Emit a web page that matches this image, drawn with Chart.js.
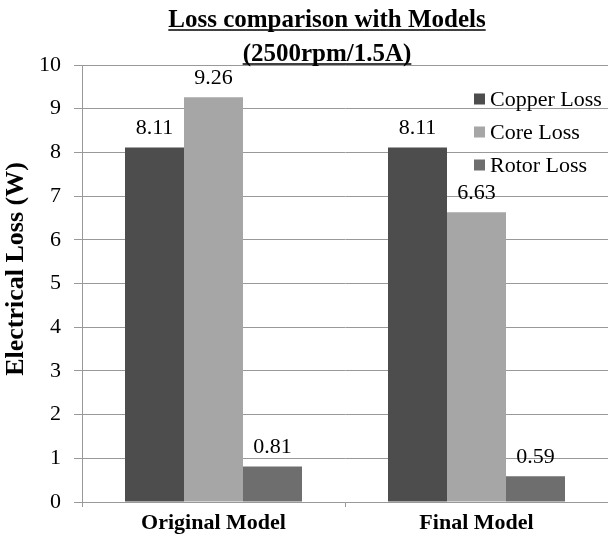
<!DOCTYPE html>
<html>
<head>
<meta charset="utf-8">
<script src="https://cdn.jsdelivr.net/npm/chart.js@4/dist/chart.umd.min.js"></script>
<style>
  html, body { margin: 0; padding: 0; background: #fff; }
  #wrap { width: 608px; height: 541px; }
</style>
</head>
<body>
<div id="wrap"><canvas id="c" width="608" height="541"></canvas></div>
<script>
// Loss values per model (W)
const categories = ['Original Model', 'Final Model'];
const seriesNames = ['Copper Loss', 'Core Loss', 'Rotor Loss'];
const copperLoss = [8.11, 8.11];
const coreLoss = [9.26, 6.63];
const rotorLoss = [0.81, 0.59];
const yTicks = [0, 1, 2, 3, 4, 5, 6, 7, 8, 9, 10];
const titleLines = ['Loss comparison with Models', '(2500rpm/1.5A)'];
const yTitle = 'Electrical Loss (W)';

const colors = ['#4d4d4d', '#a6a6a6', '#6e6e6e'];
const SERIF = '"Liberation Serif", "Times New Roman", serif';

// Underlined two-line heading
const headingPlugin = {
  id: 'heading',
  afterDraw(chart) {
    const ctx = chart.ctx;
    ctx.save();
    ctx.font = 'bold 25px ' + SERIF;
    ctx.fillStyle = '#000';
    ctx.strokeStyle = '#000';
    ctx.textAlign = 'center';
    ctx.textBaseline = 'alphabetic';
    const cx = 327;
    const baselines = [27, 61];
    titleLines.forEach((t, i) => {
      ctx.fillText(t, cx, baselines[i]);
      const w = ctx.measureText(t).width;
      ctx.lineWidth = 1.5;
      ctx.beginPath();
      ctx.moveTo(cx - w / 2, baselines[i] + 3);
      ctx.lineTo(cx + w / 2, baselines[i] + 3);
      ctx.stroke();
    });
    ctx.restore();
  }
};

// Rotated axis title
const yTitlePlugin = {
  id: 'yTitle',
  afterDraw(chart) {
    const ctx = chart.ctx;
    ctx.save();
    ctx.translate(16, 269);
    ctx.rotate(-Math.PI / 2);
    ctx.font = 'bold 26px ' + SERIF;
    ctx.fillStyle = '#000';
    ctx.textAlign = 'center';
    ctx.textBaseline = 'middle';
    ctx.fillText(yTitle, 0, 0);
    ctx.restore();
  }
};

// Value labels above each bar
const valueLabels = {
  id: 'valueLabels',
  afterDatasetsDraw(chart) {
    const ctx = chart.ctx;
    ctx.save();
    ctx.font = '22px ' + SERIF;
    ctx.fillStyle = '#000';
    ctx.textAlign = 'center';
    ctx.textBaseline = 'middle';
    chart.data.datasets.forEach((ds, di) => {
      chart.getDatasetMeta(di).data.forEach((bar, i) => {
        ctx.fillText(ds.data[i].toFixed(2), bar.x, bar.y - 19);
      });
    });
    ctx.restore();
  }
};

// Legend inside the plot, upper right
const innerLegend = {
  id: 'innerLegend',
  afterDraw(chart) {
    const ctx = chart.ctx;
    ctx.save();
    ctx.font = '22px ' + SERIF;
    ctx.textAlign = 'left';
    ctx.textBaseline = 'middle';
    chart.data.datasets.forEach((ds, i) => {
      const y = 99 + i * 33;
      ctx.fillStyle = ds.backgroundColor;
      ctx.fillRect(474, y - 5.5, 11, 11);
      ctx.fillStyle = '#000';
      ctx.fillText(ds.label, 490, y + 1);
    });
    ctx.restore();
  }
};

new Chart(document.getElementById('c'), {
  type: 'bar',
  data: {
    labels: categories,
    datasets: [
      { label: seriesNames[0], data: copperLoss, backgroundColor: colors[0] },
      { label: seriesNames[1], data: coreLoss, backgroundColor: colors[1] },
      { label: seriesNames[2], data: rotorLoss, backgroundColor: colors[2] }
    ]
  },
  options: {
    responsive: false,
    animation: false,
    layout: { padding: { top: 65, right: 0, bottom: 0, left: 0 } },
    datasets: { bar: { categoryPercentage: 0.673, barPercentage: 1.0 } },
    plugins: {
      legend: { display: false },
      title: { display: false },
      tooltip: { enabled: false }
    },
    scales: {
      x: {
        grid: { offset: true, drawOnChartArea: false, tickLength: 5, color: '#999' },
        border: { color: '#999', width: 1 },
        ticks: { font: { family: SERIF, size: 22, weight: 'bold' }, color: '#000', padding: 3 },
        afterFit(scale) { scale.height = 39; }
      },
      y: {
        min: 0,
        max: 10,
        afterBuildTicks(scale) { scale.ticks = yTicks.map(v => ({ value: v })); },
        grid: { color: '#999', tickLength: 8 },
        border: { color: '#999', width: 1 },
        ticks: { font: { family: SERIF, size: 22 }, color: '#000', padding: 13 },
        afterFit(scale) { scale.width = 82; }
      }
    }
  },
  plugins: [headingPlugin, yTitlePlugin, valueLabels, innerLegend]
});
</script>
</body>
</html>
